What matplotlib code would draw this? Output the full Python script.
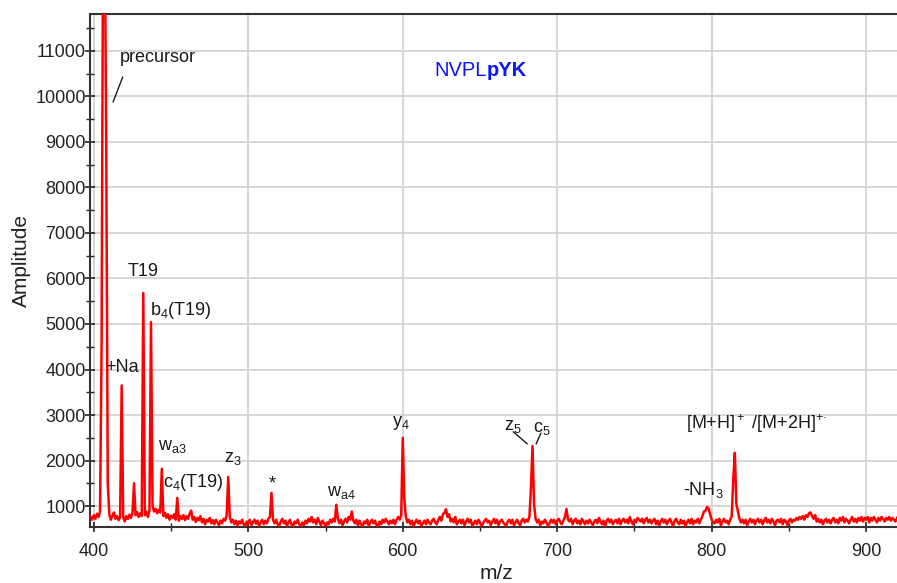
import numpy as np
import matplotlib.pyplot as plt
from matplotlib.ticker import MultipleLocator

plt.rcParams['font.family'] = ['Liberation Sans', 'DejaVu Sans']
plt.rcParams['mathtext.fontset'] = 'custom'
plt.rcParams['mathtext.rm'] = 'Liberation Sans'
plt.rcParams['mathtext.it'] = 'Liberation Sans'
plt.rcParams['mathtext.default'] = 'regular'

# baseline noise, one value per m/z unit starting at 398
mz_start = 398
noise = [
    760, 700, 800, 720, 830, 760, 880, 900, 900, 900, 900, 760, 820, 700, 790, 860, 720, 780, 690, 760,
    700, 760, 660, 780, 720, 810, 740, 850, 760, 800, 870, 760, 840, 780, 900, 800, 880, 760, 900, 950,
    1000, 880, 940, 840, 920, 860, 880, 780, 850, 740, 820, 700, 790, 740, 820, 700, 760, 680, 780, 720,
    800, 690, 780, 720, 830, 880, 700, 760, 650, 740, 690, 780, 640, 720, 600, 700, 660, 740, 620, 690,
    600, 700, 640, 580, 680, 620, 720, 680, 800, 860, 760, 640, 700, 600, 680, 580, 660, 620, 700, 600,
    560, 660, 620, 700, 580, 650, 700, 610, 680, 560, 640, 700, 600, 680, 620, 720, 760, 860, 700, 620,
    700, 600, 560, 660, 720, 620, 680, 560, 640, 700, 590, 560, 660, 620, 700, 600, 560, 640, 580, 680,
    620, 720, 660, 760, 640, 700, 600, 740, 660, 580, 680, 620, 560, 640, 600, 700, 640, 720, 660, 800,
    720, 620, 700, 580, 660, 720, 640, 760, 700, 820, 680, 620, 700, 580, 680, 600, 560, 660, 620, 700,
    560, 640, 700, 620, 680, 580, 560, 660, 600, 700, 640, 720, 660, 600, 680, 620, 700, 600, 700, 760,
    700, 800, 900, 900, 760, 640, 700, 600, 680, 560, 640, 700, 620, 680, 560, 620, 680, 600, 700, 640,
    600, 680, 720, 640, 600, 700, 760, 680, 820, 850, 930, 760, 820, 660, 720, 640, 760, 600, 660, 700,
    620, 700, 580, 660, 720, 640, 700, 560, 620, 680, 600, 700, 640, 560, 620, 680, 720, 640, 680, 580,
    660, 720, 620, 700, 580, 660, 700, 640, 600, 560, 660, 700, 620, 700, 580, 640, 700, 620, 580, 680,
    720, 640, 700, 660, 760, 900, 900, 900, 720, 640, 700, 580, 660, 620, 700, 640, 560, 620, 700, 640,
    700, 600, 680, 720, 640, 600, 680, 760, 900, 700, 660, 720, 600, 680, 720, 620, 680, 600, 720, 660,
    600, 680, 620, 700, 640, 580, 660, 700, 620, 740, 660, 600, 680, 560, 680, 720, 640, 700, 600, 660,
    700, 620, 720, 600, 680, 720, 640, 700, 620, 760, 660, 600, 700, 640, 740, 700, 660, 720, 620, 700,
    740, 640, 700, 620, 680, 720, 600, 680, 580, 660, 720, 640, 700, 600, 680, 720, 640, 560, 680, 720,
    640, 600, 700, 620, 680, 560, 640, 700, 620, 720, 600, 680, 640, 720, 620, 700, 780, 880, 900, 900,
    900, 820, 700, 640, 620, 700, 640, 720, 580, 660, 720, 640, 680, 600, 700, 780, 900, 900, 900, 880,
    720, 640, 700, 620, 700, 580, 660, 720, 640, 700, 600, 680, 720, 640, 700, 600, 680, 740, 640, 700,
    620, 720, 660, 580, 680, 700, 640, 720, 600, 700, 660, 580, 680, 720, 640, 700, 680, 740, 700, 760,
    720, 780, 700, 800, 760, 840, 860, 780, 720, 800, 660, 720, 640, 700, 600, 680, 720, 640, 700, 620,
    700, 740, 640, 700, 620, 740, 680, 760, 640, 720, 680, 620, 700, 760, 660, 720, 640, 740, 680, 760,
    660, 740, 700, 760, 640, 740, 680, 760, 700, 640, 740, 680, 760, 720, 660, 740, 700, 760, 680, 740,
    700, 660, 740,
]

# peaks put on top of the baseline (m/z, amplitude)
peak_mz = [405, 406, 407, 408, 409, 418, 426, 432, 437, 444, 454, 463, 487, 515,
           557, 567, 600, 601, 627, 628, 683, 684, 685, 706, 797, 798,
           814, 815, 816, 817, 863, 864]
peak_amp = [4500, 14000, 14000, 9000, 1500, 3650, 1500, 5680, 5040, 1820, 1180, 900, 1640, 1290,
            1030, 880, 2500, 1150, 850, 930, 1400, 2320, 1050, 935, 980, 950,
            1600, 2170, 1050, 880, 840, 860]

# fragment labels: text, m/z, amplitude, alignment
labels = ['precursor', 'T19', r'b$_4$(T19)', '+Na', r'w$_{a3}$', r'c$_4$(T19)', r'z$_3$', '*',
          r'w$_{a4}$', r'y$_4$', r'z$_5$', r'c$_5$', r'-NH$_3$', r'[M+H]$^+$ /[M+2H]$^{+·}$']
label_mz = [417, 431.8, 436.2, 407.6, 441.8, 444.5, 490, 515.3, 551, 598.8, 671.3, 684.5, 794.4, 829]
label_amp = [10850, 6150, 5300, 4050, 2300, 1520, 2050, 1480, 1300, 2820, 2750, 2700, 1350, 2800]
label_ha = ['left', 'center', 'left', 'left', 'left', 'left', 'center', 'center',
            'left', 'center', 'center', 'left', 'center', 'center']

# leader lines (m/z pairs, amplitude pairs)
leader_mz = [[412.5, 418.6], [671.6, 680.5], [686.4, 689.4]]
leader_amp = [[9880, 10420], [2630, 2370], [2370, 2600]]

mz = np.arange(mz_start, mz_start + len(noise))
amp = np.array(noise, dtype=float)
for m, a in zip(peak_mz, peak_amp):
    amp[mz == m] = a

fig = plt.figure(figsize=(8.97, 5.83), dpi=100)
ax = fig.add_axes([90 / 897, 56 / 583, 1 - 90 / 897, 513 / 583])

ax.plot(mz, amp, color='#ff0000', lw=1.8, zorder=3)

ax.set_xlim(397.5, 920)
ax.set_ylim(540, 11810)
ax.xaxis.set_minor_locator(MultipleLocator(50))
ax.yaxis.set_minor_locator(MultipleLocator(500))
ax.set_xticks([400, 500, 600, 700, 800, 900])
ax.set_yticks(range(1000, 12000, 1000))

ax.grid(which='major', color='#d4d4d4', lw=1.3)
ax.set_axisbelow(True)
ax.tick_params(which='major', direction='inout', length=7, width=1.2, labelsize=13,
               colors='#222222')
ax.tick_params(which='minor', direction='inout', length=6, width=1.0, colors='#222222')
ax.tick_params(axis='x', pad=8)
ax.tick_params(axis='y', pad=-0.5)
for s in ['left', 'bottom', 'top']:
    ax.spines[s].set_color('#333333')
    ax.spines[s].set_linewidth(1.5)
ax.spines['right'].set_visible(False)

ax.set_xlabel('m/z', fontsize=15, color='#222222')
ax.set_ylabel('Amplitude', fontsize=15, color='#222222')
ax.xaxis.set_label_coords(0.504, -0.072)
ax.yaxis.set_label_coords(-0.073, 0.52)

for t, x, y, ha in zip(labels, label_mz, label_amp, label_ha):
    ax.text(x, y, t, fontsize=13, color='#1a1a1a', ha=ha, va='center', zorder=4)

for xs, ys in zip(leader_mz, leader_amp):
    ax.plot(xs, ys, color='#1a1a1a', lw=1.0, zorder=4)

ax.text(654.5, 10560, 'NVPL', fontsize=14.5, color='#0a14ff', ha='right', va='center')
ax.text(654.5, 10560, 'pYK', fontsize=14.5, color='#0a14ff', ha='left', va='center',
        fontweight='bold')

fig.savefig('out.png', dpi=100)
